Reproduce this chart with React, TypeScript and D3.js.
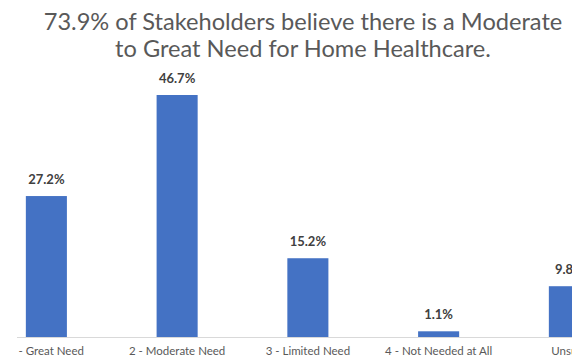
import React from "react";
import * as d3 from "d3";

const categories = ["1 - Great Need", "2 - Moderate Need", "3 - Limited Need", "4 - Not Needed at All", "Unsure"];
const values = [27.2, 46.7, 15.2, 1.1, 9.8];
const valueLabels = ["27.2%", "46.7%", "15.2%", "1.1%", "9.8%"];
const titleLines = ["73.9% of Stakeholders believe there is a Moderate", "to Great Need for Home Healthcare."];

export default function App() {
  const W = 572, H = 361;
  const baseY = 337;
  const x = d3.scaleBand<string>().domain(categories).range([-19, -19 + 130.75 * 5]).paddingInner(0.686).paddingOuter(0.343);
  const y = d3.scaleLinear().domain([0, 46.7]).range([baseY, 95]);
  const font = "Lato, 'Open Sans', sans-serif";
  return (
    <svg width={W} height={H} style={{ position: "absolute", left: 0, top: 0, background: "#fff" }} fontFamily={font}>
      <defs>
        <clipPath id="plotClip">
          <rect x={17} y={0} width={W - 17} height={H} />
        </clipPath>
      </defs>
      {titleLines.map((t, i) => (
        <text key={i} x={303} y={30 + i * 27} textAnchor="middle" fontSize={23.6} fill="#595959">{t}</text>
      ))}
      <g clipPath="url(#plotClip)">
        {categories.map((c, i) => (
          <g key={c}>
            <rect x={x(c)} y={y(values[i])} width={x.bandwidth()} height={baseY - y(values[i])} fill="#4472C4" />
            <text x={(x(c) as number) + x.bandwidth() / 2} y={y(values[i]) - 12} textAnchor="middle" fontSize={13} fontWeight="bold" fill="#404040">{valueLabels[i]}</text>
            <text x={(x(c) as number) + x.bandwidth() / 2} y={355} textAnchor="middle" fontSize={11.5} fill="#595959">{c}</text>
          </g>
        ))}
        <line x1={17} x2={W} y1={baseY + 0.5} y2={baseY + 0.5} stroke="#d9d9d9" strokeWidth={1} />
      </g>
    </svg>
  );
}
